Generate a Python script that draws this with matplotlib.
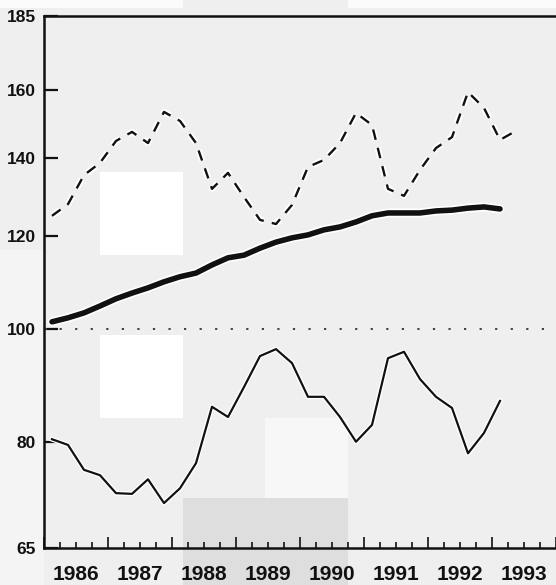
import matplotlib

matplotlib.use("Agg")

import matplotlib.pyplot as plt  # noqa: E402
import matplotlib.patheffects as pe  # noqa: E402
from matplotlib.patches import Rectangle  # noqa: E402
from matplotlib.ticker import FixedLocator, NullFormatter  # noqa: E402

# Quarterly observations, plotted at mid-quarter
quarters = [1986.125 + 0.25 * i for i in range(30)]

dashed_series = [
    124.9, 127.8, 135.3, 138.6, 144.7, 147.3, 144.1, 153.2, 150.5, 144.1,
    131.7, 135.9, 129.6, 123.9, 122.9, 127.6, 137.5, 139.4, 144.1, 152.9,
    149.3, 131.7, 129.9, 136.7, 142.7, 145.8, 159.3, 154.4, 145.0, 147.6,
]
thick_series = [
    101.4, 102.2, 103.2, 104.6, 106.1, 107.3, 108.4, 109.7, 110.8, 111.6,
    113.4, 115.0, 115.6, 117.2, 118.6, 119.6, 120.3, 121.5, 122.2, 123.4,
    124.9, 125.6, 125.6, 125.6, 126.1, 126.3, 126.8, 127.1, 126.6,
]
thin_series = [
    80.5, 79.6, 75.8, 75.0, 72.4, 72.3, 74.4, 71.0, 73.1, 76.8,
    85.8, 84.1, 89.2, 94.8, 96.1, 93.5, 87.5, 87.5, 84.1, 80.1,
    82.8, 94.4, 95.6, 90.6, 87.5, 85.6, 78.3, 81.5, 86.8,
]
baseline = 100

years = list(range(1986, 1995))
year_labels = ["1986", "1987", "1988", "1989", "1990", "1991", "1992", "1993"]
y_ticks = [65, 80, 100, 120, 140, 160, 185]

BG = "#efefef"
INK = "#111111"
FONT = ["Liberation Sans Narrow", "Liberation Sans", "DejaVu Sans"]

fig = plt.figure(figsize=(5.56, 5.85), dpi=100, facecolor=BG)
W, H = 556, 585


def _px_rect(x0, y0, x1, y1, color):
    # rectangle given in image pixels (top-left origin)
    fig.patches.append(Rectangle(
        (x0 / W, 1 - y1 / H), (x1 - x0) / W, (y1 - y0) / H,
        transform=fig.transFigure, facecolor=color, edgecolor="none", zorder=-5,
    ))


# scan artefacts in the background
_px_rect(0, 250, 44, 585, "#f4f4f4")
_px_rect(0, 0, 183, 8, "#fbfbfb")
_px_rect(348, 0, 556, 8, "#fbfbfb")
_px_rect(100, 172, 183, 255, "#ffffff")
_px_rect(100, 335, 183, 418, "#ffffff")
_px_rect(265, 418, 348, 498, "#f7f7f7")
_px_rect(183, 498, 348, 585, "#dedede")

ax = fig.add_axes([44 / W, 1 - 548 / H, 1 - 44 / W, (548 - 16) / H])
ax.set_facecolor("none")

halo = lambda w: [pe.Stroke(linewidth=w, foreground="white"), pe.Normal()]

ax.axhline(baseline, color="#444444", linewidth=1.6, linestyle=(0, (1, 6)),
           path_effects=halo(4), zorder=2)
ax.plot(quarters, dashed_series, color=INK, linewidth=1.7,
        linestyle=(0, (4.5, 3.5)), path_effects=halo(4.5), zorder=3)
ax.plot(quarters[:len(thick_series)], thick_series, color=INK, linewidth=4.0,
        solid_capstyle="round", path_effects=halo(6.5), zorder=3)
ax.plot(quarters[:len(thin_series)], thin_series, color=INK, linewidth=1.6,
        path_effects=halo(3.5), zorder=3)

ax.set_yscale("log")
ax.set_ylim(65, 185)
ax.set_xlim(1986, 1994)

ax.yaxis.set_major_locator(FixedLocator(y_ticks))
ax.yaxis.set_minor_locator(FixedLocator([]))
ax.yaxis.set_minor_formatter(NullFormatter())
ax.set_yticklabels([str(v) for v in y_ticks])

ax.set_xticks(years, labels=[""] * len(years))
minor_pos = [y + q for y in years[:-1] for q in (0.25, 0.5, 0.75)]
minor_lab = [year_labels[i // 3] if i % 3 == 1 else "" for i in range(len(minor_pos))]
ax.set_xticks(minor_pos, labels=minor_lab, minor=True)

ax.tick_params(axis="both", which="both", direction="in", color=INK)
ax.tick_params(axis="x", which="major", length=8, width=1.2)
ax.tick_params(axis="x", which="minor", length=4, width=1.2, pad=12)
ax.tick_params(axis="y", which="major", length=10, width=1.6, pad=6)
for lab in ax.get_xticklabels(minor=True):
    lab.set_fontfamily(FONT)
    lab.set_fontweight("bold")
    lab.set_fontsize(15)
    lab.set_color(INK)
for lab in ax.get_yticklabels():
    lab.set_fontfamily(FONT)
    lab.set_fontweight("bold")
    lab.set_fontsize(12.5)
    lab.set_color(INK)

for side in ("left", "bottom", "top"):
    ax.spines[side].set_linewidth(1.8)
    ax.spines[side].set_color(INK)
ax.spines["right"].set_visible(False)

fig.savefig("out.png", dpi=100, facecolor=BG)
